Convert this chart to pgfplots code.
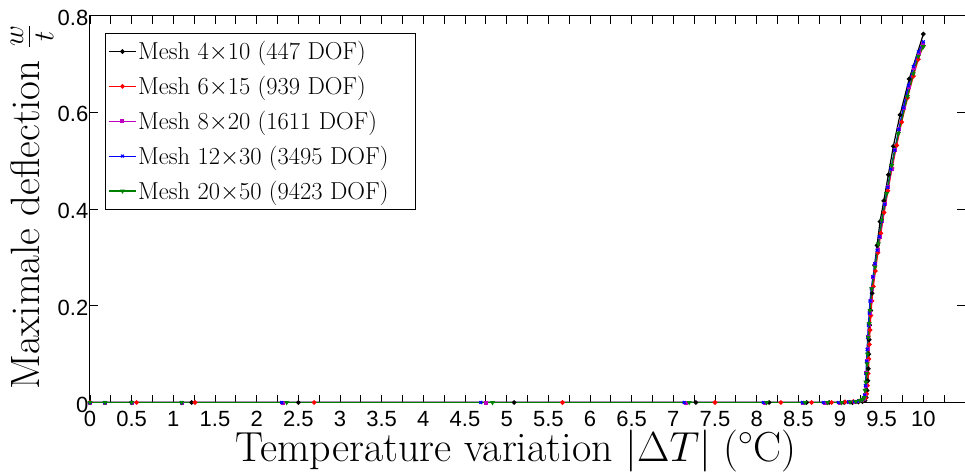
\RequirePackage{fix-cm}
\documentclass[border=0pt]{standalone}
\usepackage{fontspec}
\usepackage{pgfplots}
\pgfplotsset{compat=1.18}
\newfontfamily\tickfont{Liberation Sans}
\definecolor{mgreen}{rgb}{0,0.5,0}
\definecolor{mmag}{rgb}{0.75,0,0.75}
\begin{document}
\begin{tikzpicture}
\begin{axis}[name=ax, scale only axis, width=875pt, height=386.8pt,
  xmin=0, xmax=10.5, ymin=0, ymax=0.8,
  axis line style={line width=1pt},
  tick style={line width=0.8pt, black},
  major tick length=8pt, minor tick length=8pt, tick align=inside,
  xtick={0,0.5,...,10}, minor xtick={0.25,0.75,...,10.25},
  ytick={0,0.2,0.4,0.6,0.8},
  /pgf/number format/assume math mode=true,
  tick label style={font=\fontsize{22}{22}\tickfont},
  xticklabel style={inner sep=0pt, yshift=-8.5pt},
  yticklabel style={inner sep=1.5pt, yshift=-2pt},
  xlabel={Temperature variation $|\Delta T|$ ($^\circ$C)},
  ylabel={Maximale deflection $\frac{w}{t}$},
  label style={inner sep=0pt},
  xlabel style={font=\fontsize{42}{50}\selectfont, at={(axis description cs:0.487,0)}, anchor=center, yshift=-48pt},
  ylabel style={font=\fontsize{41}{48}\selectfont, at={(axis description cs:-0.0663,0.505)}, anchor=center},
  legend style={at={(axis description cs:0.0171,0.956)}, anchor=north west,
    draw=black, line width=0.8pt, font=\fontsize{24.5}{28}\selectfont,
    inner xsep=3pt, inner ysep=1pt, row sep=0pt,
    nodes={inner ysep=7.5pt, inner xsep=1.5pt}},
  legend cell align=left,
  legend image code/.code={\draw[mark repeat=2,mark phase=2,#1] plot coordinates {(0pt,0pt) (13.5pt,0pt) (27pt,0pt)};},
  every axis plot/.append style={line width=1.2pt, mark size=1.7pt, mark options={solid}},
]
\addplot[black, mark=*] coordinates {(0,0)(0.5,0)(1.22,0)(2.5,0)(5.09,0)(7.27,0)(8.15,0)(8.6,0)(8.87,0)(9.05,0)(9.15,0)(9.22,0.001)(9.27,0.002)(9.3,0.004)(9.315,0.01)(9.325,0.025)(9.333,0.045)(9.34,0.07)(9.345,0.10)(9.35,0.13)(9.356,0.16)(9.368,0.19)(9.385,0.226)(9.415,0.284)(9.445,0.325)(9.48,0.374)(9.525,0.417)(9.58,0.471)(9.64,0.53)(9.72,0.595)(9.83,0.669)(10.0,0.762)};
\addlegendentry{Mesh 4$\times$10 (447 DOF)}
\addplot[red, mark=*] coordinates {(0,0)(0.56,0)(1.26,0)(2.69,0)(5.67,0)(7.5,0)(8.29,0)(8.66,0)(8.9,0)(9.06,0.001)(9.16,0.002)(9.23,0.003)(9.275,0.005)(9.305,0.009)(9.32,0.018)(9.33,0.035)(9.338,0.06)(9.345,0.09)(9.352,0.12)(9.36,0.15)(9.37,0.18)(9.383,0.21)(9.40,0.24)(9.425,0.272)(9.455,0.31)(9.49,0.35)(9.53,0.393)(9.575,0.438)(9.625,0.485)(9.68,0.532)(9.74,0.58)(9.81,0.63)(9.88,0.675)(9.94,0.71)(10.0,0.738)};
\addlegendentry{Mesh 6$\times$15 (939 DOF)}
\addplot[mmag, mark=square*, mark size=1.4pt] coordinates {(0,0)(0.18,0)(0.5,0)(1.1,0)(2.32,0)(4.75,0)(7.15,0)(8.1,0)(8.56,0)(8.82,0)(9.0,0)(9.11,0.001)(9.18,0.002)(9.23,0.003)(9.26,0.005)(9.285,0.008)(9.3,0.015)(9.31,0.035)(9.317,0.06)(9.323,0.085)(9.33,0.11)(9.337,0.135)(9.345,0.16)(9.355,0.185)(9.366,0.21)(9.38,0.235)(9.4,0.26)(9.425,0.287)(9.45,0.315)(9.477,0.343)(9.507,0.375)(9.542,0.41)(9.578,0.445)(9.618,0.483)(9.663,0.522)(9.713,0.565)(9.768,0.61)(9.828,0.653)(9.888,0.692)(9.945,0.722)(10.0,0.742)};
\addlegendentry{Mesh 8$\times$20 (1611 DOF)}
\addplot[blue, mark=x, mark size=2pt] coordinates {(0,0)(0.18,0)(0.5,0)(1.1,0)(2.3,0)(4.69,0)(7.13,0)(8.08,0)(8.55,0)(8.8,0)(8.98,0)(9.1,0.001)(9.17,0.002)(9.22,0.003)(9.255,0.005)(9.28,0.008)(9.295,0.015)(9.305,0.035)(9.312,0.06)(9.318,0.085)(9.325,0.11)(9.332,0.135)(9.34,0.16)(9.35,0.185)(9.36,0.21)(9.375,0.235)(9.395,0.26)(9.42,0.287)(9.445,0.315)(9.47,0.343)(9.50,0.375)(9.535,0.41)(9.57,0.445)(9.61,0.483)(9.655,0.522)(9.705,0.565)(9.76,0.61)(9.82,0.655)(9.88,0.695)(9.94,0.725)(10.0,0.746)};
\addlegendentry{Mesh 12$\times$30 (3495 DOF)\hspace*{22pt}}
\addplot[mgreen, mark=triangle*, mark options={rotate=180}] coordinates {(0,0)(0.18,0)(0.5,0)(1.1,0)(2.36,0)(4.83,0)(7.19,0)(8.12,0)(8.58,0)(8.85,0)(9.02,0)(9.12,0.001)(9.19,0.002)(9.24,0.004)(9.27,0.006)(9.29,0.01)(9.30,0.025)(9.31,0.042)(9.32,0.06)(9.325,0.08)(9.33,0.10)(9.34,0.135)(9.35,0.163)(9.36,0.19)(9.38,0.235)(9.42,0.28)(9.46,0.328)(9.50,0.377)(9.56,0.432)(9.62,0.49)(9.70,0.556)(9.81,0.633)(9.88,0.68)(9.94,0.716)(10.0,0.736)};
\addlegendentry{Mesh 20$\times$50 (9423 DOF)}
\end{axis}
\pgfresetboundingbox
\useasboundingbox (ax.south west) ++(-90pt,-69.5pt) rectangle ++(965pt,472pt);
\end{tikzpicture}
\end{document}
